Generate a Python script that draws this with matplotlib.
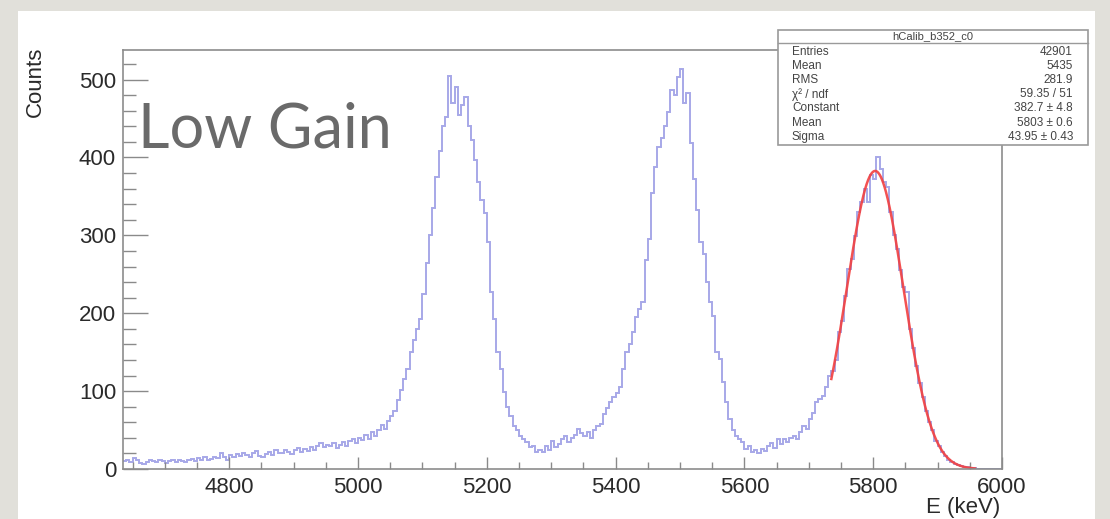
import numpy as np
import matplotlib
matplotlib.use("Agg")
import matplotlib.pyplot as plt
from matplotlib.patches import Rectangle
from matplotlib.ticker import MultipleLocator

# Histogram binning (keV)
bin_start = 4635
bin_width = 5

# Counts per 5 keV bin, from 4635 keV upward
counts = [
    10, 12, 9, 14, 11, 8, 6, 9, 11, 10,
    9, 11, 10, 8, 10, 12, 9, 11, 10, 9,
    11, 13, 10, 14, 12, 15, 11, 13, 16, 14,
    20, 15, 12, 18, 16, 19, 17, 21, 18, 16,
    20, 23, 17, 15, 19, 22, 18, 24, 20, 21,
    25, 22, 19, 24, 27, 22, 26, 23, 28, 25,
    30, 34, 28, 31, 29, 33, 27, 31, 35, 30,
    36, 38, 33, 40, 37, 44, 39, 47, 43, 50,
    56, 52, 62, 68, 74, 88, 102, 115, 128, 150,
    165, 180, 192, 225, 265, 300, 335, 375, 408, 440,
    452, 504, 470, 491, 455, 468, 478, 440, 423, 397,
    368, 345, 329, 292, 227, 192, 150, 128, 99, 80,
    68, 55, 50, 42, 38, 35, 28, 30, 22, 25,
    22, 30, 24, 36, 28, 32, 38, 42, 35, 40,
    44, 51, 46, 42, 48, 40, 50, 55, 58, 70,
    78, 86, 92, 98, 105, 128, 150, 160, 176, 195,
    205, 214, 269, 295, 355, 388, 413, 425, 440, 459,
    487, 480, 503, 513, 470, 483, 419, 372, 333, 291,
    276, 240, 214, 196, 150, 141, 112, 86, 64, 50,
    42, 38, 35, 26, 30, 22, 25, 20, 26, 23,
    29, 33, 27, 38, 32, 38, 35, 40, 42, 39,
    48, 55, 52, 64, 72, 86, 90, 94, 105, 119,
    126, 140, 176, 190, 222, 257, 270, 299, 330, 343,
    360, 343, 378, 372, 400, 385, 368, 362, 330, 300,
    282, 255, 234, 227, 180, 155, 132, 110, 93, 74,
    60, 50, 36, 30, 22, 17, 12, 9, 7, 5,
    4, 3, 2, 1, 1, 0, 0, 0, 0, 0,
    0, 0, 0,
]

# Gaussian fit result
fit_constant = 382.7
fit_mean = 5803.0
fit_sigma = 43.95
fit_range = (5735, 5958)

# Statistics box
stats_title = "hCalib_b352_c0"
stats_names = ["Entries", "Mean", "RMS", "\u03c7\u00b2 / ndf", "Constant", "Mean", "Sigma"]
stats_values = ["42901", "5435", "281.9", "59.35 / 51", "382.7 \u00b1 4.8",
                "5803 \u00b1 0.6", "43.95 \u00b1 0.43"]

x_ticks = [4800, 5000, 5200, 5400, 5600, 5800, 6000]
y_ticks = [0, 100, 200, 300, 400, 500]

W, H = 1110, 519
fig = plt.figure(figsize=(W / 100, H / 100), dpi=100)
fig.patch.set_facecolor("#e1e0da")

# white canvas
fig.add_artist(Rectangle((18 / W, 0), (1095 - 18) / W, (H - 11) / H,
                         transform=fig.transFigure, facecolor="white",
                         edgecolor="none", zorder=0))

ax = fig.add_axes([123 / W, (H - 469) / H, (1002 - 123) / W, (469 - 50) / H])
ax.set_facecolor("white")

edges = bin_start + bin_width * np.arange(len(counts) + 1)
ax.stairs(counts, edges, color="#a7a8e8", linewidth=1.4, baseline=None)

xf = np.linspace(fit_range[0], fit_range[1], 400)
yf = fit_constant * np.exp(-0.5 * ((xf - fit_mean) / fit_sigma) ** 2)
ax.plot(xf, yf, color="#f23f3f", linewidth=1.8, alpha=0.9)

ax.set_xlim(4635, 6000)
ax.set_ylim(0, 538)

ax.xaxis.set_minor_locator(MultipleLocator(50))
ax.yaxis.set_minor_locator(MultipleLocator(20))
ax.set_xticks(x_ticks)
ax.set_yticks(y_ticks)
ax.tick_params(axis="y", which="major", direction="in", length=18, width=1.0,
               color="#8a8a8a", labelsize=16, labelcolor="#2a2a2a", pad=5)
ax.tick_params(axis="y", which="minor", direction="in", length=9, width=1.0,
               color="#8a8a8a")
ax.tick_params(axis="x", which="major", direction="in", length=9, width=1.0,
               color="#8a8a8a", labelsize=16, labelcolor="#2a2a2a", pad=6)
ax.tick_params(axis="x", which="minor", direction="in", length=5, width=1.0,
               color="#8a8a8a")
for lab in ax.get_xticklabels() + ax.get_yticklabels():
    lab.set_family("Liberation Sans")
for s in ax.spines.values():
    s.set_color("#8c8c8c")
    s.set_linewidth(1.2)

fig.text(35 / W, 1 - 47 / H, "Counts", rotation=90, ha="center", va="top",
         fontsize=16, color="#2a2a2a", family="Liberation Sans")
fig.text(1000 / W, 1 - 508 / H, "E (keV)", ha="right", va="center",
         fontsize=16, color="#2a2a2a", family="Liberation Sans")

fig.text(138 / W, 1 - 148 / H, "Low Gain", ha="left", va="baseline",
         fontsize=44, color="#6a6a6a", family="Lato")

# statistics box
bx0, bx1, by0, by1, byt = 778, 1088, 30, 145, 43
fig.add_artist(Rectangle((bx0 / W, 1 - by1 / H), (bx1 - bx0) / W, (by1 - by0) / H,
                         transform=fig.transFigure, facecolor="white",
                         edgecolor="#9a9a9a", linewidth=1.2, zorder=5))
fig.add_artist(plt.Line2D([bx0 / W, bx1 / W], [1 - byt / H, 1 - byt / H],
                          transform=fig.transFigure, color="#9a9a9a",
                          linewidth=1.0, zorder=6))
fig.text((bx0 + bx1) / 2 / W, 1 - 36.5 / H, stats_title, ha="center", va="center",
         fontsize=8, color="#444444", family="Liberation Sans", zorder=7)
for i, (name, val) in enumerate(zip(stats_names, stats_values)):
    yy = 1 - (52 + 14.1 * i) / H
    fig.text(792 / W, yy, name, ha="left", va="center", fontsize=8.5,
             color="#444444", family="Liberation Sans", zorder=7)
    fig.text(1073 / W, yy, val, ha="right", va="center", fontsize=8.5,
             color="#444444", family="Liberation Sans", zorder=7)

fig.savefig("out.png", dpi=100)
